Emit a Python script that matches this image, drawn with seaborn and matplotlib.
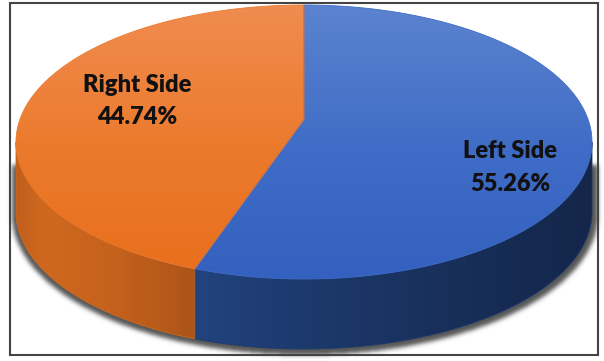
import numpy as np
import matplotlib
matplotlib.use("Agg")
import matplotlib.pyplot as plt
from matplotlib.patches import Polygon, Rectangle
from matplotlib.colors import to_rgb
import seaborn as sns

# ---- data ----
labels = ["Left Side", "Right Side"]
values = [55.26, 44.74]
pct_labels = ["55.26%", "44.74%"]

sns.set_theme(style="white")
plt.rcParams['font.family'] = ['Lato', 'DejaVu Sans']

W, H = 604, 361
fig = plt.figure(figsize=(6.04, 3.61), dpi=100)
ax = fig.add_axes([0, 0, 1, 1])

# ---- layout (pixel coordinates) ----
CX, CY, RX, RY = 304, 142, 288, 137
P = 0.165
DEPTH = 70
A = RX * np.sqrt(1 - P**2)
B = RY * (1 - P**2)
CY0 = CY - RY * P

top_colors = {"Left Side": [(5, "#5B83CF"), (150, "#3F6CC6"), (279, "#3461BF")],
              "Right Side": [(5, "#F08C50"), (150, "#EC7A2C"), (279, "#E86F1D")]}
side_colors = {"Left Side": [(195, "#22437F"), (300, "#1D3A6E"), (450, "#182F59"), (592, "#14264A")],
               "Right Side": [(16, "#BF5E1C"), (45, "#D0691F"), (110, "#C6621D"), (195, "#AD5419")]}
edge_colors = {"Left Side": "#3F6CC6", "Right Side": "#EC7A2E"}


def proj(theta_deg, r=1.0, dy=0.0):
    t = np.radians(theta_deg)
    X = r * np.cos(t)
    Z = -r * np.sin(t)
    s = 1.0 / (1.0 - P * Z)
    return CX + A * X * s, CY0 + B * Z * s + dy


def gradient(stops, n):
    xs = [s[0] for s in stops]
    cols = np.array([to_rgb(s[1]) for s in stops])
    coords = np.arange(n) + 0.5
    return np.stack([np.interp(coords, xs, cols[:, k]) for k in range(3)], -1)


def paint(verts, stops, axis, z, edge):
    patch = Polygon(verts, closed=True, transform=ax.transData,
                    facecolor="none", edgecolor="none")
    if axis == "y":
        g = gradient(stops, H)[:, None, :]
    else:
        g = gradient(stops, W)[None, :, :]
    img = np.ascontiguousarray(np.broadcast_to(g, (H, W, 3)))
    im = ax.imshow(img, extent=(0, W, H, 0), interpolation="bilinear", zorder=z)
    im.set_clip_path(patch)
    ax.add_patch(Polygon(verts, closed=True, facecolor="none",
                         edgecolor=edge, lw=0.6, zorder=z + 0.1))


# ---- shadow ----
yy, xx = np.mgrid[0:H, 0:W] + 0.5
sx, sy = xx - 1, yy - 3
inside_bottom = ((sx - CX) / (RX + 5))**2 + ((sy - CY - DEPTH) / (RY + 3))**2 <= 1
band = (np.abs(sx - CX) <= RX + 5) & (sy >= CY + 20) & (sy <= CY + DEPTH)
mask = ((inside_bottom & (sy >= CY + DEPTH)) | band).astype(float)
sig = 2.2
k = np.exp(-0.5 * (np.arange(-8, 9) / sig)**2)
k /= k.sum()
mask = np.apply_along_axis(lambda r: np.convolve(r, k, mode="same"), 1, mask)
mask = np.apply_along_axis(lambda c: np.convolve(c, k, mode="same"), 0, mask)
shadow = np.zeros((H, W, 4))
shadow[..., :3] = 0.22
shadow[..., 3] = mask * 0.85
ax.imshow(shadow, extent=(0, W, H, 0), interpolation="bilinear", zorder=1)

# ---- wedges ----
fr = np.array(values) / np.sum(values)
start = 90.0
wedges = []
for lab, f in zip(labels, fr):
    end = start - 360.0 * f
    wedges.append((lab, start, end))
    start = end

front_lo = -180.0 + np.degrees(np.arcsin(P))
front_hi = -np.degrees(np.arcsin(P))

# sides
for lab, a0, a1 in wedges:
    lo, hi = min(a0, a1), max(a0, a1)
    for shift in (-360, 0, 360):
        l2, h2 = max(lo + shift, front_lo), min(hi + shift, front_hi)
        if h2 > l2:
            th = np.linspace(l2, h2, 200)
            x1, y1 = proj(th)
            x2, y2 = proj(th[::-1], dy=DEPTH)
            verts = np.column_stack([np.r_[x1, x2], np.r_[y1, y2]])
            paint(verts, side_colors[lab], "x", 2, side_colors[lab][1][1])

# tops
for lab, a0, a1 in wedges:
    th = np.linspace(a0, a1, 400)
    x, y = proj(th)
    cx0, cy0 = proj(0.0, r=0.0)
    verts = np.column_stack([np.r_[cx0, x], np.r_[cy0, y]])
    paint(verts, top_colors[lab], "y", 4, edge_colors[lab])

# ---- labels ----
label_pos = {"Left Side": (510, 158, 191), "Right Side": (137, 92, 124)}
for lab, pct in zip(labels, pct_labels):
    x, y1, y2 = label_pos[lab]
    ax.text(x, y1, lab, ha="center", va="baseline", fontsize=17,
            fontweight="heavy", color="#111111", zorder=10)
    ax.text(x, y2, pct, ha="center", va="baseline", fontsize=17,
            fontweight="heavy", color="#111111", zorder=10)

# ---- border ----
ax.add_patch(Rectangle((9.5, 3), 588.5, 352, facecolor="none",
                       edgecolor="#444444", lw=1.5, zorder=12))

ax.set_xlim(0, W)
ax.set_ylim(H, 0)
ax.set_aspect("auto")
ax.axis("off")
fig.savefig("out.png", dpi=100, facecolor="white")
